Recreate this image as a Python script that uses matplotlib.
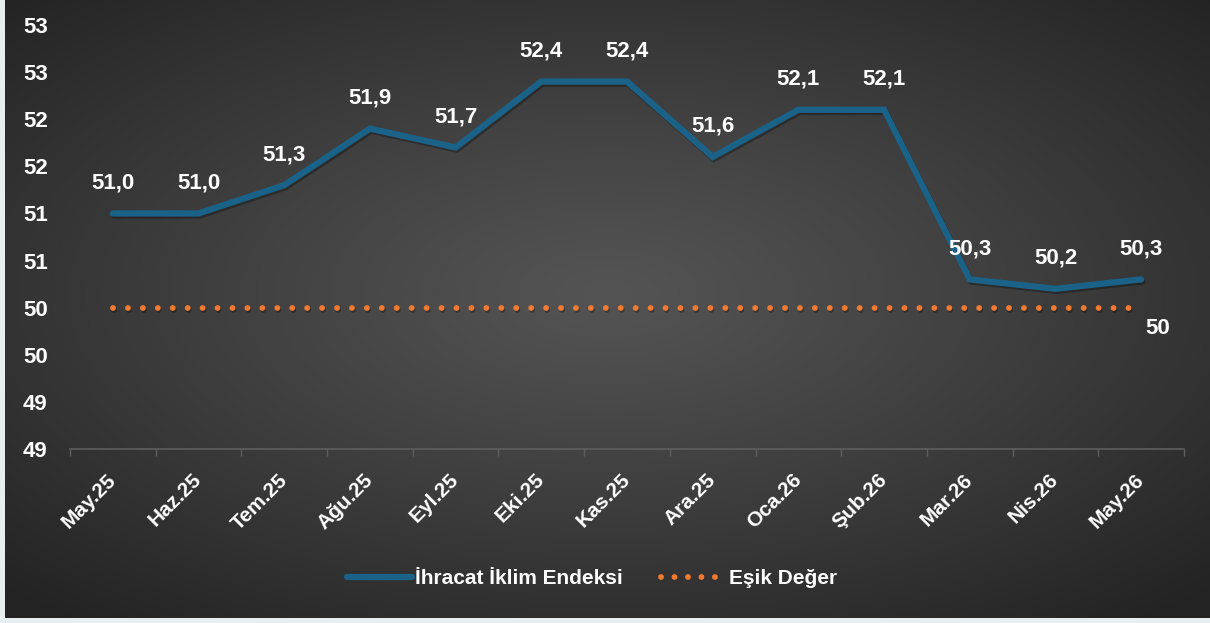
import numpy as np
import matplotlib
matplotlib.use("Agg")
import matplotlib.pyplot as plt
import matplotlib.patheffects as pe
from matplotlib.lines import Line2D

# --- data ---
months = ["May.25", "Haz.25", "Tem.25", "Ağu.25", "Eyl.25", "Eki.25", "Kas.25",
          "Ara.25", "Oca.26", "Şub.26", "Mar.26", "Nis.26", "May.26"]
index_values = [51.0, 51.0, 51.3, 51.9, 51.7, 52.4, 52.4, 51.6, 52.1, 52.1, 50.3, 50.2, 50.3]
threshold_values = [50] * 13
y_ticks = [48.5, 49.0, 49.5, 50.0, 50.5, 51.0, 51.5, 52.0, 52.5, 53.0]
y_tick_labels = ["49", "49", "50", "50", "51", "51", "52", "52", "53", "53"]

LINE_COLOR = "#1b6288"
DOT_COLOR = "#f07a32"
TEXT_COLOR = "white"
FONT = ["Liberation Sans", "DejaVu Sans"]

plt.rcParams["font.family"] = FONT
plt.rcParams["font.weight"] = "bold"

fig = plt.figure(figsize=(12.10, 6.23), dpi=100)
fig.patch.set_facecolor("#e6eef0")

# dark radial gradient background
bg = fig.add_axes([5 / 1210, 5 / 623, 1205 / 1210, 618 / 623])
gx, gy = np.meshgrid(np.linspace(-1, 1, 400), np.linspace(-1, 1, 220))
r = np.sqrt((gx * 0.95) ** 2 + ((gy + 0.05) * 1.0) ** 2)
shade = 0.33 - 0.19 * np.clip(r / 1.35, 0, 1) ** 1.1
bg.imshow(np.dstack([shade, shade, shade]), aspect="auto", extent=[0, 1, 0, 1],
          interpolation="bilinear")
bg.set_axis_off()

ax = fig.add_axes([70 / 1210, 1 - 449 / 623, 1114 / 1210, 424 / 623])
ax.set_facecolor("none")

x = np.arange(len(months))
shadow = [pe.SimpleLineShadow(offset=(1, -1.5), shadow_color="black", alpha=0.3), pe.Normal()]
ax.plot(x, index_values, color=LINE_COLOR, lw=4.5, solid_joinstyle="miter",
        solid_capstyle="round", path_effects=shadow, zorder=3)
ax.plot(x, threshold_values, color=DOT_COLOR, lw=4.2, linestyle=(0, (0.01, 2.55)),
        dash_capstyle="round", path_effects=shadow, zorder=2)

for xi, v in zip(x, index_values):
    ax.annotate(f"{v:.1f}".replace(".", ","), (xi, v), xytext=(0, 22),
                textcoords="offset points", ha="center", va="center",
                color=TEXT_COLOR, fontsize=16, fontweight="bold", clip_on=False)
ax.annotate(str(threshold_values[-1]), (x[-1], threshold_values[-1]), xytext=(12, -15),
            textcoords="offset points", ha="center", va="center",
            color=TEXT_COLOR, fontsize=16, fontweight="bold")

ax.set_xlim(-0.5, len(months) - 0.5)
ax.set_ylim(48.5, 53.0)
ax.set_yticks(y_ticks)
ax.set_yticklabels(y_tick_labels, color=TEXT_COLOR, fontsize=16, fontweight="bold")
ax.tick_params(axis="y", length=0, pad=16)

ax.set_xticks(x)
ax.set_xticklabels(months, rotation=45, ha="right", va="center", rotation_mode="anchor",
                   color=TEXT_COLOR, fontsize=15, fontweight="bold")
ax.tick_params(axis="x", which="major", length=0, pad=20)
ax.set_xticks(np.arange(len(months) + 1) - 0.5, minor=True)
ax.tick_params(axis="x", which="minor", length=5, color="#5e5e5e", width=1)

for side in ["top", "right", "left"]:
    ax.spines[side].set_visible(False)
ax.spines["bottom"].set_color("#5e5e5e")
ax.spines["bottom"].set_linewidth(1.2)

handles = [
    Line2D([], [], color=LINE_COLOR, lw=4.5, solid_capstyle="round"),
    Line2D([], [], color=DOT_COLOR, lw=4.2, linestyle=(0, (0.01, 2.3)), dash_capstyle="round"),
]
leg = fig.legend(handles, ["İhracat İklim Endeksi", "Eşik Değer"], loc="center",
                 bbox_to_anchor=(592 / 1210, 1 - 579 / 623), ncol=2, frameon=False,
                 handlelength=3.1, columnspacing=1.85, handletextpad=0.15,
                 prop={"family": FONT, "weight": "bold", "size": 15})
for t in leg.get_texts():
    t.set_color(TEXT_COLOR)

fig.savefig("out.png", dpi=100, facecolor=fig.get_facecolor())
